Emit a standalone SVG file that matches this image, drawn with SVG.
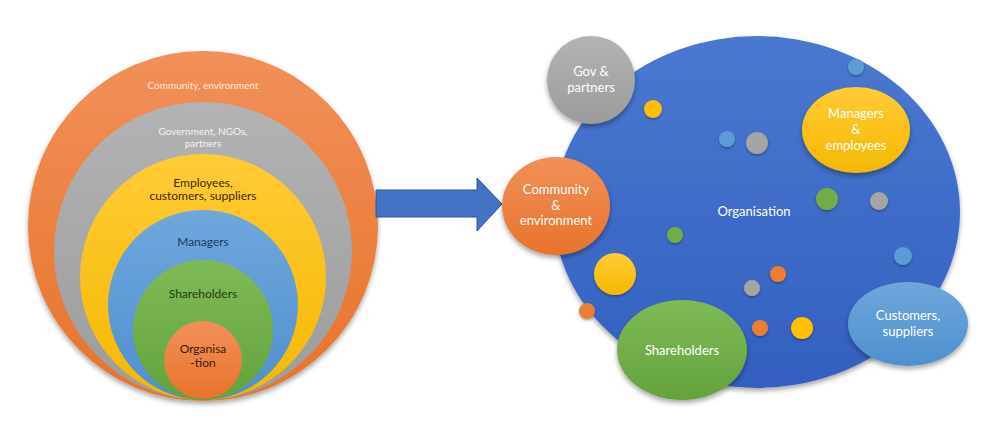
<svg xmlns="http://www.w3.org/2000/svg" width="1000" height="444" viewBox="0 0 1000 444">
<defs>
<filter id="sh" x="-20%" y="-20%" width="140%" height="150%"><feDropShadow dx="0" dy="3" stdDeviation="2.5" flood-color="#000" flood-opacity="0.35"/></filter>
<filter id="shs" x="-40%" y="-40%" width="180%" height="190%"><feDropShadow dx="0" dy="1.5" stdDeviation="1" flood-color="#000" flood-opacity="0.35"/></filter>
<linearGradient id="gO" x1="0" y1="0" x2="0" y2="1"><stop offset="0" stop-color="#f1905a"/><stop offset="1" stop-color="#e8732a"/></linearGradient>
<linearGradient id="gG" x1="0" y1="0" x2="0" y2="1"><stop offset="0" stop-color="#b3b3b3"/><stop offset="1" stop-color="#9c9c9c"/></linearGradient>
<linearGradient id="gY" x1="0" y1="0" x2="0" y2="1"><stop offset="0" stop-color="#ffcb37"/><stop offset="1" stop-color="#f5b800"/></linearGradient>
<linearGradient id="gB" x1="0" y1="0" x2="0" y2="1"><stop offset="0" stop-color="#6fa7dc"/><stop offset="1" stop-color="#4f8fcf"/></linearGradient>
<linearGradient id="gN" x1="0" y1="0" x2="0" y2="1"><stop offset="0" stop-color="#7ebb57"/><stop offset="1" stop-color="#64a23d"/></linearGradient>
<linearGradient id="gD" x1="0" y1="0" x2="0" y2="1"><stop offset="0" stop-color="#4a78d0"/><stop offset="1" stop-color="#3360c0"/></linearGradient>
<style>
text{font-family:Lato,"Liberation Sans",sans-serif;text-anchor:middle}
.w{fill:#ffffff}
.sm{font-size:10px}
.md{font-size:12px}
.lg{font-size:13px}
</style>
</defs>
<rect width="1000" height="444" fill="#ffffff"/>

<g id="left-rings" filter="url(#sh)">
<g id="ring-community"><circle cx="203" cy="226" r="175" fill="url(#gO)"/></g>
<g id="ring-government"><circle cx="203" cy="251" r="149" fill="url(#gG)"/></g>
<g id="ring-employees"><circle cx="203" cy="277" r="123" fill="url(#gY)"/></g>
<g id="ring-managers"><circle cx="203" cy="305" r="95" fill="url(#gB)"/></g>
<g id="ring-shareholders"><circle cx="203" cy="330" r="70" fill="url(#gN)"/></g>
<g id="ring-organisation"><circle cx="203" cy="360" r="39" fill="url(#gO)"/></g>
</g>
<g id="left-labels">
<text x="203" y="89" class="sm" fill="#fde9dc">Community, environment</text>
<text x="203" y="135" class="sm" fill="#f4f4f4">Government, NGOs,</text>
<text x="203" y="147" class="sm" fill="#f4f4f4">partners</text>
<text x="203" y="187" class="md" fill="#3a2a00">Employees,</text>
<text x="203" y="200" class="md" fill="#3a2a00">customers, suppliers</text>
<text x="203" y="246" class="md" fill="#1f3864">Managers</text>
<text x="203" y="298" class="md" fill="#1e3a10">Shareholders</text>
<text x="203" y="353" class="md" fill="#3b1c08">Organisa</text>
<text x="203" y="367" class="md" fill="#3b1c08">-tion</text>
</g>

<g id="connectors">
<path d="M376,190 L477,190 L477,178 L502,204 L477,231 L477,217 L376,217 Z" fill="#4472c4" stroke="#2f5597" stroke-width="1"/>
</g>

<g id="organisation" filter="url(#sh)">
<ellipse cx="757" cy="212" rx="203" ry="176" fill="url(#gD)"/>
</g>
<text x="754" y="216" class="lg w">Organisation</text>

<g id="dots" filter="url(#shs)">
<circle cx="653" cy="109" r="9" fill="#ffc000"/>
<circle cx="727" cy="139" r="8" fill="#5b9bd5"/>
<circle cx="757" cy="143" r="11" fill="#a5a5a5"/>
<circle cx="856" cy="67" r="8" fill="#5b9bd5"/>
<circle cx="827" cy="199" r="11" fill="#70ad47"/>
<circle cx="879" cy="201" r="9" fill="#a5a5a5"/>
<circle cx="903" cy="256" r="9" fill="#5b9bd5"/>
<circle cx="778" cy="274" r="8" fill="#ed7d31"/>
<circle cx="752" cy="288" r="8" fill="#a5a5a5"/>
<circle cx="675" cy="235" r="8" fill="#70ad47"/>
<circle cx="615" cy="274" r="21" fill="url(#gY)"/>
<circle cx="587" cy="311" r="8" fill="#ed7d31"/>
<circle cx="760" cy="328" r="8" fill="#ed7d31"/>
<circle cx="802" cy="328" r="11" fill="#ffc000"/>
</g>

<g id="gov-partners">
<circle cx="591" cy="80" r="44" fill="url(#gG)" filter="url(#sh)"/>
<text x="591" y="76" class="lg w">Gov &amp;</text>
<text x="591" y="92" class="lg w">partners</text>
</g>

<g id="community-environment">
<ellipse cx="556" cy="206" rx="54" ry="49" fill="url(#gO)" filter="url(#sh)"/>
<text x="556" y="194" class="lg w">Community</text>
<text x="556" y="210" class="lg w">&amp;</text>
<text x="556" y="225" class="lg w">environment</text>
</g>

<g id="managers-employees">
<ellipse cx="856" cy="130" rx="54" ry="43" fill="url(#gY)" filter="url(#sh)"/>
<text x="856" y="118" class="lg w">Managers</text>
<text x="856" y="134" class="lg w">&amp;</text>
<text x="856" y="150" class="lg w">employees</text>
</g>

<g id="shareholders">
<ellipse cx="682" cy="350" rx="65" ry="50" fill="url(#gN)" filter="url(#sh)"/>
<text x="682" y="355" class="lg w">Shareholders</text>
</g>

<g id="customers-suppliers">
<ellipse cx="908" cy="324" rx="60" ry="42" fill="url(#gB)" filter="url(#sh)"/>
<text x="908" y="320" class="lg w">Customers,</text>
<text x="908" y="336" class="lg w">suppliers</text>
</g>
</svg>
